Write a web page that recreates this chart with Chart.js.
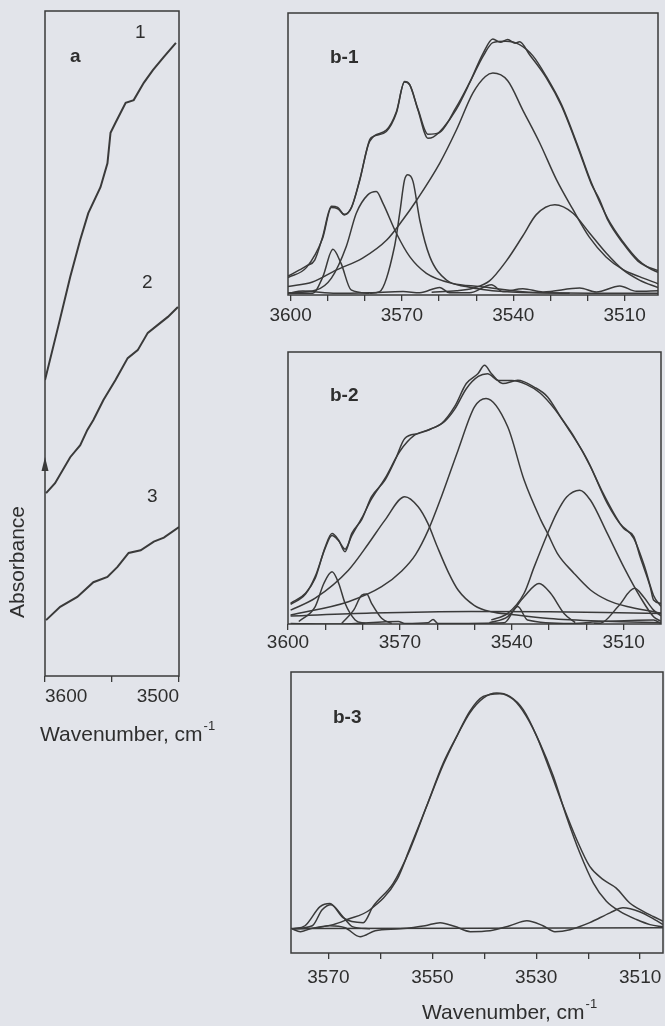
<!DOCTYPE html>
<html>
<head>
<meta charset="utf-8">
<script src="https://cdn.jsdelivr.net/npm/chart.js@4.4.0/dist/chart.umd.min.js"></script>
<style>
  body { margin: 0; background: #e2e4ea; }
  #wrap { position: relative; width: 665px; height: 1026px; }
  canvas { position: absolute; left: 0; top: 0; }
</style>
</head>
<body>
<div id="wrap">
  <canvas id="panelA" width="665" height="1026"></canvas>
  <canvas id="panelB1" width="665" height="1026"></canvas>
  <canvas id="panelB2" width="665" height="1026"></canvas>
  <canvas id="panelB3" width="665" height="1026"></canvas>
</div>
<script>
// ---- panel a : three absorbance traces ----
const aWn1 = [3600, 3590.2, 3581.2, 3573.7, 3567.7, 3558.6, 3553.4, 3551.1, 3547.4, 3539.8, 3533.8, 3526.3, 3519.5, 3511.3, 3502.3];
const aAbs1 = [44.5, 52.5, 60, 65.6, 69.6, 73.5, 77.1, 81.7, 83.2, 86.2, 86.6, 89.2, 91.1, 93.1, 95.2];
const aWn2 = [3599.2, 3592.5, 3581.2, 3573.7, 3568.4, 3563.9, 3556.4, 3547.4, 3538.3, 3530.8, 3523.3, 3515.8, 3508.3, 3500.8];
const aAbs2 = [27.5, 29, 32.9, 34.7, 37, 38.5, 41.5, 44.5, 47.8, 49, 51.6, 52.8, 54, 55.5];
const aWn3 = [3599.2, 3588.7, 3575.9, 3563.9, 3553.4, 3545.9, 3537.6, 3528.6, 3518.8, 3511.3, 3500];
const aAbs3 = [8.4, 10.4, 11.9, 14.1, 14.9, 16.4, 18.5, 18.9, 20.2, 20.8, 22.4];

// ---- panel b-1 ----
const b1MeasWn = [3600.7, 3597.6, 3595.7, 3593.5, 3591.4, 3589.0, 3587.3, 3585.5, 3583.6, 3581.4, 3578.7, 3577.8, 3574.2, 3571.5, 3569.3, 3567.9, 3565.7, 3563.0, 3561.6, 3558.9, 3555.4, 3551.8, 3548.2, 3545.5, 3543.5, 3541.5, 3539.5, 3538.3, 3535.6, 3531.1, 3527.0, 3522.5, 3519.0, 3516.7, 3514.5, 3510.4, 3506.4, 3504.1, 3501.0];
const b1MeasAbs = [6.7, 8.9, 10.3, 12.4, 20.5, 31.5, 31.1, 28.4, 31.1, 40.8, 55.0, 56.2, 58.0, 64.5, 75.7, 74.6, 65.7, 55.6, 56.0, 59.2, 65.7, 75.1, 85.5, 90.8, 89.6, 90.6, 89.3, 89.8, 85.2, 77.0, 67.0, 52.0, 39.5, 33.7, 26.5, 18.3, 12.0, 10.1, 8.7];
const b1FitWn = [3600.7, 3595.7, 3591.4, 3589.0, 3587.3, 3585.5, 3583.6, 3581.4, 3578.7, 3574.2, 3571.5, 3569.3, 3567.9, 3565.7, 3563.0, 3560.0, 3555.4, 3551.5, 3548.0, 3545.5, 3542.0, 3538.3, 3534.7, 3531.1, 3527.0, 3522.5, 3519.0, 3514.5, 3510.4, 3506.4, 3503.5, 3501.0];
const b1FitAbs = [6.2, 9.8, 20.0, 31.0, 30.6, 28.6, 31.0, 40.5, 54.5, 58.5, 65.0, 75.5, 74.5, 66.0, 57.0, 57.5, 66.5, 76.0, 85.0, 89.5, 90.0, 88.8, 84.8, 77.5, 67.5, 52.5, 40.0, 27.0, 18.8, 12.5, 9.6, 8.0];
const b1P3545Wn = [3600.7, 3594.1, 3587.6, 3580.6, 3574.1, 3569.8, 3566.0, 3559.8, 3555.3, 3550.9, 3547.5, 3545.5, 3541.5, 3537.4, 3532.9, 3528.4, 3524.0, 3519.5, 3515.0, 3510.4, 3506.0, 3501.0];
const b1P3545Abs = [3.0, 4.6, 8.9, 13.1, 19.5, 26.6, 33.7, 46.8, 58.6, 71.6, 77.5, 78.7, 76.0, 65.5, 54.0, 41.0, 30.5, 20.5, 13.5, 9.0, 6.5, 4.0];
const b1P3529Wn = [3562.0, 3555.3, 3550.9, 3546.4, 3541.9, 3537.4, 3533.8, 3528.8, 3523.9, 3519.4, 3514.9, 3510.4, 3506.0, 3501.0];
const b1P3529Abs = [1.0, 1.5, 2.4, 5.0, 12.0, 21.0, 28.5, 32.0, 29.0, 21.9, 14.8, 8.9, 5.3, 2.6];
const b1P3577Wn = [3600.7, 3593.1, 3589.0, 3585.0, 3582.3, 3579.2, 3576.9, 3575.1, 3571.5, 3567.9, 3563.4, 3556.3, 3549.1, 3533.8, 3501.0];
const b1P3577Abs = [0.8, 1.8, 6.0, 17.2, 29.0, 35.5, 36.7, 32.5, 21.9, 13.6, 7.7, 4.1, 3.0, 0.9, 0.6];
const b1P3568Wn = [3578.7, 3576.0, 3572.0, 3570.6, 3569.3, 3568.4, 3567.0, 3565.2, 3562.5, 3558.0, 3552.7, 3542.8, 3524.8];
const b1P3568Abs = [0.6, 1.2, 17.2, 29.0, 40.8, 42.6, 40.2, 26.6, 13.6, 5.3, 3.0, 1.2, 0.6];
const b1P3589Wn = [3600.7, 3594.0, 3591.3, 3588.6, 3586.4, 3583.7, 3578.7];
const b1P3589Abs = [0.6, 0.6, 6.5, 16.2, 11.2, 1.8, 0.6];
const b1ResWn = [3600.7, 3596.7, 3587.7, 3578.7, 3569.7, 3565.2, 3559.8, 3557.2, 3551.8, 3545.9, 3542.8, 3537.4, 3532.0, 3522.1, 3517.6, 3511.3, 3506.8, 3501.0];
const b1ResAbs = [0.6, 1.4, 0.6, 0.8, 1.2, 0.8, 2.7, 0.8, 0.8, 3.6, 1.2, 2.2, 1.1, 2.5, 1.1, 3.2, 1.3, 1.5];

// ---- panel b-2 ----
const b2MeasWn = [3599.3, 3595.3, 3592.7, 3590.0, 3588.2, 3586.4, 3584.7, 3582.9, 3580.2, 3577.6, 3574.0, 3571.3, 3568.7, 3565.1, 3561.6, 3558.9, 3555.3, 3552.2, 3549.1, 3547.3, 3545.5, 3542.4, 3538.4, 3534.0, 3530.4, 3526.9, 3523.3, 3518.9, 3514.4, 3510.0, 3507.3, 3505.6, 3502.9, 3502.0, 3500.0];
const b2MeasAbs = [7.6, 11.3, 16.8, 28.4, 33.3, 30.8, 26.6, 33.3, 38.5, 46.8, 52.9, 60.2, 68.2, 70.0, 71.8, 73.6, 80.0, 88.4, 92.0, 95.1, 92.1, 88.4, 89.6, 87.1, 83.5, 76.1, 68.8, 57.8, 44.3, 35.1, 32.1, 24.7, 13.7, 8.8, 7.6];
const b2FitWn = [3599.3, 3595.3, 3592.7, 3590.0, 3588.2, 3586.4, 3584.7, 3582.9, 3580.2, 3577.6, 3574.0, 3570.0, 3566.0, 3562.0, 3558.0, 3555.3, 3552.2, 3549.0, 3546.5, 3543.5, 3540.0, 3536.0, 3532.5, 3528.5, 3524.5, 3520.0, 3515.5, 3511.0, 3507.3, 3504.5, 3502.0, 3500.0];
const b2FitAbs = [7.2, 11.0, 17.5, 28.0, 32.5, 30.5, 27.5, 32.5, 39.0, 46.0, 53.5, 63.5, 69.5, 71.5, 74.5, 79.0, 86.5, 91.0, 92.0, 89.5, 89.5, 88.0, 85.0, 79.0, 71.0, 61.0, 48.0, 37.0, 31.5, 21.5, 10.5, 6.5];
const b2P3547Wn = [3599.3, 3583.8, 3574.9, 3569.5, 3565.8, 3562.4, 3558.9, 3554.4, 3550.0, 3546.9, 3541.1, 3536.7, 3532.2, 3530.4, 3527.8, 3523.3, 3518.9, 3514.4, 3509.1, 3502.0, 3500.0];
const b2P3547Abs = [3.3, 8.2, 13.7, 19.5, 25.5, 34.5, 46.7, 63.9, 79.8, 82.9, 72.5, 52.9, 38.2, 33.3, 26.0, 18.6, 12.5, 8.8, 6.4, 4.5, 4.0];
const b2P3569Wn = [3599.3, 3592.7, 3583.8, 3578.4, 3574.0, 3568.7, 3565.1, 3562.5, 3560.0, 3557.0, 3554.4, 3550.0, 3545.5, 3540.0, 3530.0, 3515.0, 3500.0];
const b2P3569Abs = [5.1, 9.5, 19.8, 29.6, 38.2, 46.8, 43.1, 37.0, 28.5, 19.0, 12.5, 6.8, 4.5, 3.5, 2.0, 1.0, 0.5];
const b2P3522Wn = [3545.5, 3541.1, 3536.7, 3534.0, 3530.4, 3528.0, 3525.3, 3521.8, 3518.9, 3514.4, 3510.0, 3505.6, 3502.0, 3500.0];
const b2P3522Abs = [1.5, 3.9, 11.3, 21.0, 33.3, 40.7, 46.7, 49.2, 45.5, 33.3, 21.0, 10.0, 2.7, 1.0];
const b2P3533Wn = [3546.0, 3541.1, 3536.7, 3532.7, 3529.6, 3526.0, 3523.0];
const b2P3533Abs = [0.5, 2.7, 10.0, 14.9, 11.3, 3.9, 0.5];
const b2P3507Wn = [3518.0, 3516.2, 3511.5, 3507.1, 3504.7, 3502.0, 3500.0];
const b2P3507Abs = [0.2, 0.3, 6.4, 13.1, 10.0, 5.1, 3.0];
const b2P3588Wn = [3597.1, 3592.7, 3590.4, 3588.2, 3586.4, 3584.7, 3582.0, 3579.3];
const b2P3588Abs = [0.9, 6.4, 14.9, 19.2, 14.9, 7.6, 1.5, 0.2];
const b2P3579Wn = [3585.6, 3582.4, 3580.2, 3578.9, 3577.6, 3574.9, 3572.2];
const b2P3579Abs = [0.2, 5.1, 10.6, 11.0, 7.6, 2.1, 0.2];
const b2BroadWn = [3599.3, 3577.6, 3550.9, 3530.0, 3515.0, 3500.0];
const b2BroadAbs = [2.9, 4.0, 4.6, 4.5, 4.2, 3.9];
const b2ResWn = [3599.3, 3586.4, 3570.4, 3568.7, 3562.4, 3561.1, 3559.8, 3542.0, 3538.4, 3535.8, 3524.2, 3516.2, 3502.0, 3500.0];
const b2ResAbs = [0.2, 0, 0.9, 0.2, 0.5, 1.7, 0.2, 0.5, 6.4, 1.5, 0.2, 0.9, 1.5, 0.2];

// ---- panel b-3 ----
const b3MeasWn = [3576.8, 3574.5, 3571.6, 3569.7, 3567.2, 3563.3, 3561.4, 3557.5, 3554.3, 3551.1, 3547.9, 3545.3, 3542.8, 3540.2, 3537.6, 3535.1, 3532.5, 3529.9, 3527.4, 3524.8, 3522.2, 3519.7, 3517.1, 3514.6, 3512.0, 3509.4, 3507.5, 3505.6];
const b3MeasAbs = [8.6, 9.7, 16.5, 17.6, 12.6, 10.8, 16.6, 24.9, 36.8, 52.2, 67.6, 77.1, 85.4, 90.7, 92.5, 91.3, 86.6, 77.1, 65.2, 52.2, 40.3, 30.8, 26.1, 23.1, 17.8, 14.8, 13.0, 11.3];
const b3FitWn = [3576.8, 3575.4, 3569.1, 3566.4, 3562.0, 3556.8, 3554.3, 3551.1, 3547.9, 3545.3, 3542.8, 3540.2, 3537.0, 3534.4, 3531.9, 3529.3, 3526.7, 3524.2, 3521.6, 3519.0, 3516.5, 3513.9, 3510.7, 3508.1, 3505.6];
const b3FitAbs = [8.6, 8.6, 10.1, 11.9, 15.4, 26.1, 37.4, 52.2, 67.0, 77.1, 86.0, 91.3, 92.3, 90.2, 84.2, 74.7, 62.9, 48.7, 35.6, 24.9, 18.4, 14.8, 11.9, 10.1, 9.3];
const b3P3570Wn = [3577.0, 3573.1, 3571.2, 3569.5, 3567.2, 3565.4, 3562.0];
const b3P3570Abs = [8.6, 9.7, 15.4, 17.2, 12.9, 9.4, 8.6];
const b3ResWn = [3577.0, 3575.4, 3573.5, 3569.7, 3566.8, 3563.9, 3561.0, 3556.2, 3551.4, 3548.5, 3545.6, 3542.7, 3538.9, 3535.1, 3531.8, 3528.7, 3526.4, 3523.5, 3519.7, 3515.8, 3513.3, 3510.1, 3507.2, 3505.6];
const b3ResAbs = [8.6, 7.6, 8.6, 9.7, 9.0, 5.8, 7.9, 8.6, 9.7, 10.8, 9.4, 7.6, 7.9, 9.7, 11.5, 9.7, 7.6, 8.3, 10.8, 14.3, 16.1, 14.7, 11.9, 10.1];
const b3BaseWn = [3577.2, 3505.6];
const b3BaseAbs = [8.7, 9.0];

const INK = '#3a3a3a';
const FONT = '"Liberation Sans", Arial, sans-serif';

function pts(wn, abs) {
  return wn.map((x, i) => ({ x: x, y: abs[i] }));
}

// frame, arrow and free text for each panel
const decor = {
  id: 'decor',
  afterDraw(chart, args, opts) {
    const ctx = chart.ctx;
    const area = chart.chartArea;
    ctx.save();
    ctx.strokeStyle = INK;
    ctx.lineWidth = 1.5;
    ctx.strokeRect(area.left, area.top, area.right - area.left, area.bottom - area.top);
    if (opts.arrowY) {
      ctx.fillStyle = INK;
      ctx.beginPath();
      ctx.moveTo(area.left, opts.arrowY - 8);
      ctx.lineTo(area.left - 3.5, opts.arrowY + 6);
      ctx.lineTo(area.left + 3.5, opts.arrowY + 6);
      ctx.closePath();
      ctx.fill();
    }
    ctx.fillStyle = '#2e2e2e';
    ctx.textBaseline = 'middle';
    for (const t of opts.items || []) {
      const size = t.size || 19;
      ctx.font = (t.bold ? 'bold ' : '') + size + 'px ' + FONT;
      ctx.save();
      ctx.translate(t.x, t.y);
      if (t.rot) ctx.rotate(-Math.PI / 2);
      ctx.textAlign = t.align || 'left';
      ctx.fillText(t.text, 0, 0);
      if (t.sup) {
        const w = ctx.measureText(t.text).width;
        ctx.font = Math.round(size * 0.62) + 'px ' + FONT;
        ctx.textAlign = 'left';
        ctx.fillText(t.sup, w + 1, -size * 0.42);
      }
      ctx.restore();
    }
    ctx.restore();
  }
};

function makePanel(id, box, xMin, xMax, tickVals, labelVals, tickPad, series, opts) {
  const datasets = series.map(s => ({
    data: pts(s[0], s[1]),
    borderColor: INK,
    borderWidth: opts.lineWidth,
    pointRadius: 0,
    tension: opts.smooth ? 0.4 : 0,
    cubicInterpolationMode: opts.smooth ? 'monotone' : 'default',
    fill: false
  }));
  new Chart(document.getElementById(id), {
    type: 'line',
    data: { datasets: datasets },
    options: {
      responsive: false,
      animation: false,
      events: [],
      layout: {
        padding: { left: box.l, top: box.t, right: 665 - box.r, bottom: 1026 - box.b - 40 }
      },
      scales: {
        x: {
          type: 'linear',
          reverse: true,
          min: xMin,
          max: xMax,
          afterBuildTicks: (scale) => { scale.ticks = tickVals.map(v => ({ value: v })); },
          afterFit: (scale) => { scale.height = 40; },
          border: { display: false },
          grid: { drawOnChartArea: false, drawTicks: true, tickLength: 6, color: INK, lineWidth: 1.3 },
          ticks: {
            autoSkip: false,
            maxRotation: 0,
            padding: tickPad,
            align: opts.tickAlign || 'center',
            color: '#2e2e2e',
            font: { family: FONT, size: 19 },
            callback: (v) => labelVals.includes(v) ? String(v) : ''
          }
        },
        y: { display: false, min: 0, max: 100 }
      },
      plugins: {
        legend: { display: false },
        tooltip: { enabled: false },
        decor: { items: opts.items, arrowY: opts.arrowY }
      }
    },
    plugins: [decor]
  });
}

makePanel('panelA', { l: 45, r: 179, t: 11, b: 676 }, 3500, 3600,
  [3500, 3550, 3600], [3500, 3600], 3,
  [[aWn1, aAbs1], [aWn2, aAbs2], [aWn3, aAbs3]],
  {
    lineWidth: 2, smooth: false, tickAlign: 'inner', arrowY: 465,
    items: [
      { text: 'a', x: 70, y: 57, bold: true },
      { text: '1', x: 135, y: 33 },
      { text: '2', x: 142, y: 283 },
      { text: '3', x: 147, y: 497 },
      { text: 'Absorbance', x: 18, y: 562, rot: true, align: 'center', size: 21 },
      { text: 'Wavenumber, cm', sup: '-1', x: 40, y: 735, size: 21 }
    ]
  });

makePanel('panelB1', { l: 288, r: 658, t: 13, b: 295 }, 3501, 3600.7,
  [3510, 3520, 3530, 3540, 3550, 3560, 3570, 3580, 3590, 3600], [3510, 3540, 3570, 3600], 3,
  [[b1MeasWn, b1MeasAbs], [b1FitWn, b1FitAbs], [b1P3545Wn, b1P3545Abs], [b1P3529Wn, b1P3529Abs],
   [b1P3577Wn, b1P3577Abs], [b1P3568Wn, b1P3568Abs], [b1P3589Wn, b1P3589Abs], [b1ResWn, b1ResAbs]],
  { lineWidth: 1.5, smooth: true, items: [{ text: 'b-1', x: 330, y: 58, bold: true }] });

makePanel('panelB2', { l: 288, r: 661, t: 352, b: 624 }, 3500, 3600,
  [3510, 3520, 3530, 3540, 3550, 3560, 3570, 3580, 3590, 3600], [3510, 3540, 3570, 3600], 1,
  [[b2MeasWn, b2MeasAbs], [b2FitWn, b2FitAbs], [b2P3547Wn, b2P3547Abs], [b2P3569Wn, b2P3569Abs],
   [b2P3522Wn, b2P3522Abs], [b2P3533Wn, b2P3533Abs], [b2P3507Wn, b2P3507Abs], [b2P3588Wn, b2P3588Abs],
   [b2P3579Wn, b2P3579Abs], [b2BroadWn, b2BroadAbs], [b2ResWn, b2ResAbs]],
  { lineWidth: 1.5, smooth: true, items: [{ text: 'b-2', x: 330, y: 396, bold: true }] });

makePanel('panelB3', { l: 291, r: 663, t: 672, b: 953 }, 3505.6, 3577.2,
  [3510, 3520, 3530, 3540, 3550, 3560, 3570], [3510, 3530, 3550, 3570], 7,
  [[b3MeasWn, b3MeasAbs], [b3FitWn, b3FitAbs], [b3P3570Wn, b3P3570Abs], [b3ResWn, b3ResAbs], [b3BaseWn, b3BaseAbs]],
  {
    lineWidth: 1.5, smooth: true,
    items: [
      { text: 'b-3', x: 333, y: 718, bold: true },
      { text: 'Wavenumber, cm', sup: '-1', x: 422, y: 1013, size: 21 }
    ]
  });
</script>
</body>
</html>
